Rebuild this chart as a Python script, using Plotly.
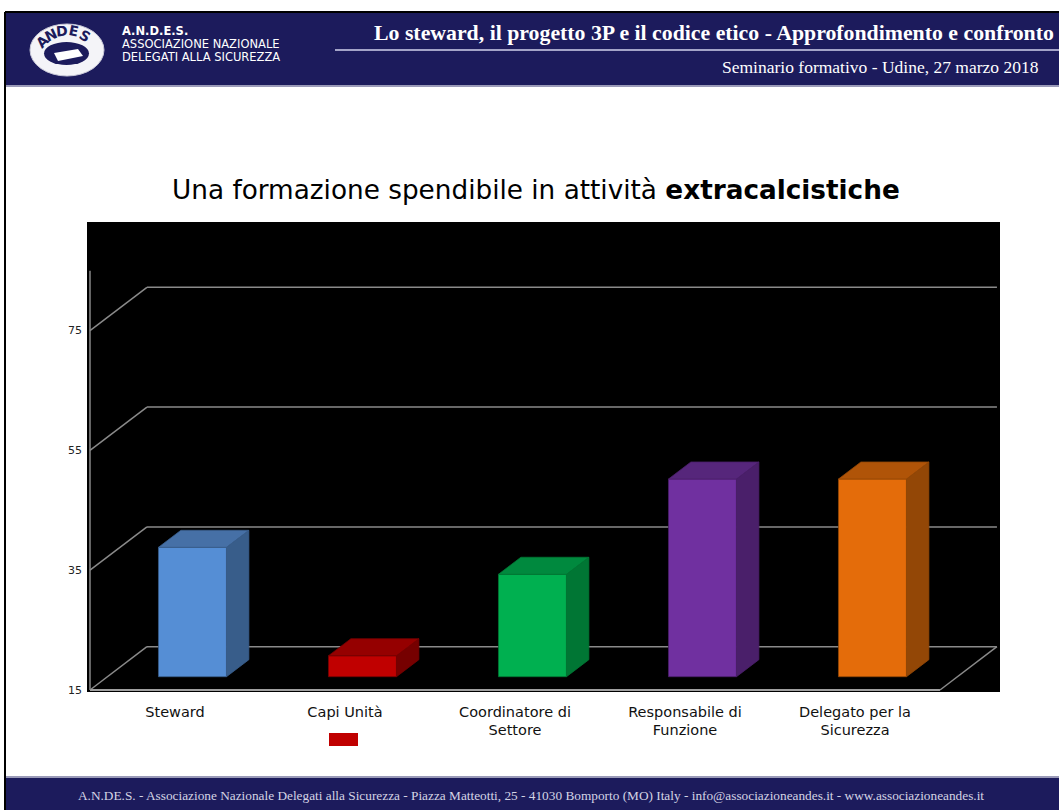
import plotly.graph_objects as go

# ---------------- data ----------------
categories = ["Steward", "Capi Unità", "Coordinatore di<br>Settore",
              "Responsabile di<br>Funzione", "Delegato per la<br>Sicurezza"]
values = [36.6, 18.5, 32.1, 48.0, 48.0]
front_colors = ["#558ED5", "#C00000", "#00B050", "#7030A0", "#E46C0A"]
top_colors = ["#4670A6", "#950000", "#00893E", "#56267B", "#B05408"]
side_colors = ["#385D8A", "#760000", "#007634", "#4A1F6A", "#934706"]
y_ticks = [15, 35, 55, 75]
y_min, y_axis_top = 15, 85

# ---------------- geometry (pixels -> axis units) ----------------
PL, PR, PT, PB = 87, 1000, 222, 692
X0, X1 = -0.5, len(categories) - 0.5
DX, DY = 0.335, 7.23          # depth offset of back wall in axis units
D0, D1 = 0.307, 0.70          # bar depth span (fraction)
HW = 0.2                      # bar half width
x_range = [-0.5176, 4.853]
y_range = [14.666, 93.13]


def px(x):
    return (x - PL) / (PR - PL)


def py(y):
    return (PB - y) / (PB - PT)


NAVY = "#1c1b5c"
fig = go.Figure()

# front faces as real bars
fig.add_trace(go.Bar(
    x=[i + D0 * DX for i in range(len(categories))],
    y=[v - y_min for v in values],
    base=[y_min + D0 * DY] * len(values),
    width=0.4,
    marker=dict(color=front_colors, line=dict(color=side_colors, width=0.8)),
    hoverinfo="skip",
))

# top and side faces
for i, v in enumerate(values):
    xl, xr = i - HW, i + HW
    top_x = [xl + D0 * DX, xr + D0 * DX, xr + D1 * DX, xl + D1 * DX, xl + D0 * DX]
    top_y = [v + D0 * DY, v + D0 * DY, v + D1 * DY, v + D1 * DY, v + D0 * DY]
    side_x = [xr + D0 * DX, xr + D1 * DX, xr + D1 * DX, xr + D0 * DX, xr + D0 * DX]
    side_y = [y_min + D0 * DY, y_min + D1 * DY, v + D1 * DY, v + D0 * DY, y_min + D0 * DY]
    fig.add_trace(go.Scatter(x=side_x, y=side_y, fill="toself", mode="lines",
                             fillcolor=side_colors[i],
                             line=dict(color=side_colors[i], width=0.8),
                             hoverinfo="skip"))
    fig.add_trace(go.Scatter(x=top_x, y=top_y, fill="toself", mode="lines",
                             fillcolor=top_colors[i],
                             line=dict(color=side_colors[i], width=0.8),
                             hoverinfo="skip"))

shapes = []
GRID = "#8a8a8a"
for t in y_ticks:
    shapes.append(dict(type="line", xref="x", yref="y", layer="below",
                       x0=X0, y0=t, x1=X0 + DX, y1=t + DY,
                       line=dict(color=GRID, width=1.5)))
    shapes.append(dict(type="line", xref="x", yref="y", layer="below",
                       x0=X0 + DX, y0=t + DY, x1=X1 + DX, y1=t + DY,
                       line=dict(color=GRID, width=1.5)))
# floor front edge and right edge
shapes.append(dict(type="line", xref="x", yref="y", layer="below",
                   x0=X0, y0=y_min, x1=X1, y1=y_min,
                   line=dict(color="#a0a0a0", width=2)))
shapes.append(dict(type="line", xref="x", yref="y", layer="below",
                   x0=X1, y0=y_min, x1=X1 + DX, y1=y_min + DY,
                   line=dict(color=GRID, width=1.5)))
# vertical axis line
shapes.append(dict(type="line", xref="x", yref="y", layer="below",
                   x0=X0, y0=y_min, x1=X0, y1=y_axis_top,
                   line=dict(color=GRID, width=1.5)))

# ---------------- slide decoration ----------------
def prect(x0, y0, x1, y1, color, layer="above"):
    return dict(type="rect", xref="paper", yref="paper", layer=layer,
                x0=px(x0), x1=px(x1), y0=py(y1), y1=py(y0),
                fillcolor=color, line=dict(width=0))


def pline(x0, y0, x1, y1, color, width):
    return dict(type="line", xref="paper", yref="paper",
                x0=px(x0), x1=px(x1), y0=py(y0), y1=py(y1),
                line=dict(color=color, width=width))


shapes += [
    prect(5, 13, 1059, 85, NAVY),
    pline(5, 86, 1059, 86, "#9a9ab8", 2),
    pline(335, 50, 1059, 50, "#a4a4c8", 2),
    prect(5, 778, 1059, 810, NAVY),
    pline(5, 777, 1059, 777, "#9a9ab8", 2),
    pline(5, 12, 5, 810, "#000000", 2),
    pline(5, 12, 1059, 12, "#000000", 2),
    # logo
    dict(type="circle", xref="paper", yref="paper",
         x0=px(30), x1=px(104), y0=py(76), y1=py(24),
         fillcolor="#f4f4f8", line=dict(color="#c8c8d8", width=1)),
    dict(type="circle", xref="paper", yref="paper",
         x0=px(44), x1=px(89), y0=py(65), y1=py(42),
         fillcolor=NAVY, line=dict(width=0)),
    dict(type="path", xref="paper", yref="paper",
         path="M {} {} L {} {} L {} {} L {} {} Z".format(
             px(54), py(53), px(78), py(49), px(83), py(56), px(58), py(61)),
         fillcolor="#ffffff", line=dict(width=0)),
    # legend swatch
    prect(329, 733, 358, 746, "#C00000"),
]

annotations = []


def ptext(x, y, text, size, color, family, xanchor="center", yanchor="middle",
          angle=0):
    annotations.append(dict(xref="paper", yref="paper", x=px(x), y=py(y),
                            text=text, showarrow=False, xanchor=xanchor,
                            yanchor=yanchor, textangle=angle, borderpad=0,
                            font=dict(size=size, color=color, family=family)))


SERIF = "Liberation Serif, Times New Roman, serif"
ptext(1055, 33, "<b>Lo steward, il progetto 3P e il codice etico - Approfondimento e confronto</b>",
      21.8, "#ffffff", SERIF, xanchor="right")
ptext(1040, 67, "Seminario formativo - Udine, 27 marzo 2018", 17.5, "#ffffff", SERIF,
      xanchor="right")
ptext(121, 31, "<b>A.N.D.E.S.</b>", 11.5, "#ffffff", "DejaVu Sans", xanchor="left")
ptext(121, 44, "ASSOCIAZIONE NAZIONALE", 11.5, "#ffffff", "DejaVu Sans", xanchor="left")
ptext(121, 57, "DELEGATI ALLA SICUREZZA", 11.5, "#ffffff", "DejaVu Sans", xanchor="left")
for ch, x, y, a in [("A", 42, 42, -45), ("N", 51, 35, -25), ("D", 62, 31, -5),
                    ("E", 74, 31, 12), ("S", 85, 36, 32)]:
    ptext(x, y, "<b>" + ch + "</b>", 14, NAVY, "DejaVu Sans", angle=a)
ptext(531, 795,
      "A.N.DE.S. - Associazione Nazionale Delegati alla Sicurezza - Piazza Matteotti, 25 - "
      "41030 Bomporto (MO) Italy - info@associazioneandes.it - www.associazioneandes.it",
      13.3, "#d4d4e4", SERIF)
ptext(536, 190, "Una formazione spendibile in attività <b>extracalcistiche</b>",
      26.3, "#000000", "DejaVu Sans")

fig.update_layout(
    width=1059, height=810, autosize=False,
    margin=dict(l=PL, r=1059 - PR, t=PT, b=810 - PB, pad=0),
    paper_bgcolor="#ffffff", plot_bgcolor="#000000",
    showlegend=False,
    shapes=shapes, annotations=annotations,
    font=dict(family="DejaVu Sans", color="#000000"),
    xaxis=dict(range=x_range, tickvals=list(range(len(categories))),
               ticktext=categories, showgrid=False, zeroline=False,
               showline=False, ticks="", ticklabelstandoff=9,
               tickfont=dict(size=14.5, color="#111111", family="DejaVu Sans"),
               fixedrange=True),
    yaxis=dict(range=y_range, tickvals=y_ticks, showgrid=False, zeroline=False,
               showline=False, ticks="", ticklabelstandoff=4,
               tickfont=dict(size=11, color="#222222", family="DejaVu Sans"),
               fixedrange=True),
)

fig.write_html("out.html", config={"displayModeBar": False},
               post_script="document.body.style.margin='0';document.body.style.overflow='hidden';")
